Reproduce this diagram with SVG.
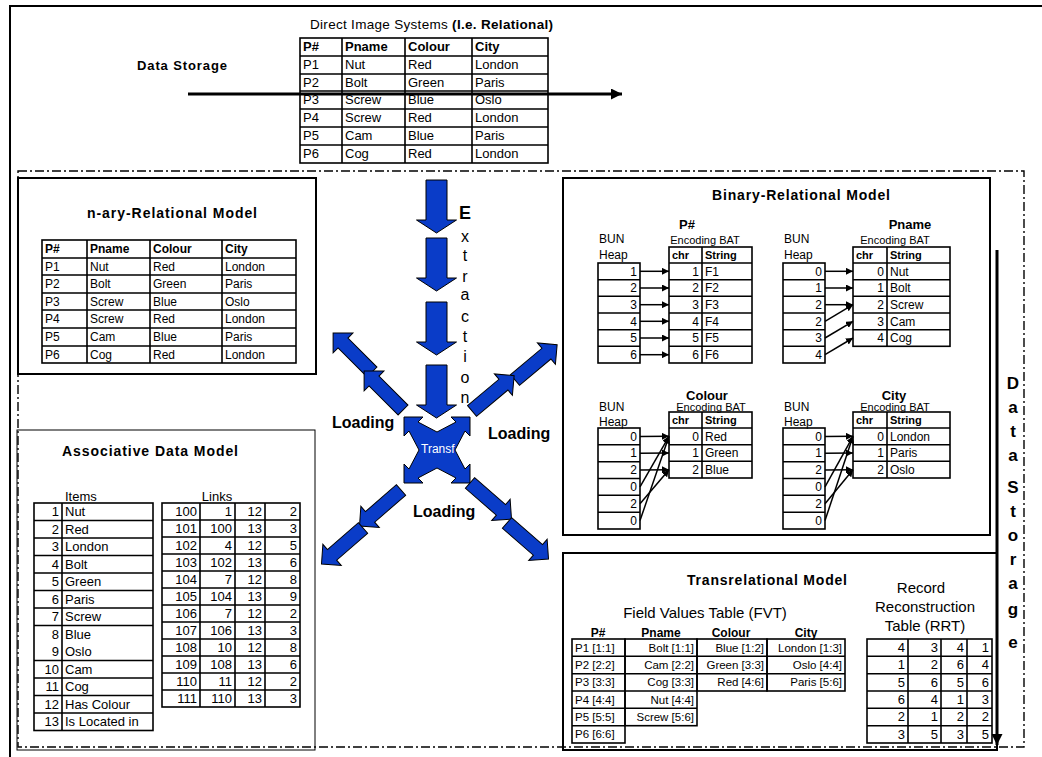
<svg xmlns="http://www.w3.org/2000/svg" width="1042" height="757" viewBox="0 0 1042 757" font-size="12">
<defs>
<style>
text{font-family:"Liberation Sans",Arial,sans-serif;fill:#000}
.b{font-weight:bold}
.e{text-anchor:end}
.m{text-anchor:middle}
.f11{font-size:11px}
.f12{font-size:12px}
.f13{font-size:13px}
.f14{font-size:14px}
.f15{font-size:15px}
.f16{font-size:16px}
.f17{font-size:17px}
.box{fill:none;stroke:#000;stroke-width:2}
.thin{fill:none;stroke:#000;stroke-width:1}
.grid{fill:none;stroke:#000;stroke-width:1.6}
.dd{fill:none;stroke:#000;stroke-width:1.4;stroke-dasharray:9 3 2 3}
.blue{fill:#0a3cc8;stroke:#000;stroke-width:1}
.con{fill:none;stroke:#000;stroke-width:1.5}
.big{fill:none;stroke:#000;stroke-width:3}
</style>
<marker id="ah" viewBox="0 0 10 10" refX="10" refY="5" markerWidth="7" markerHeight="7" orient="auto" markerUnits="userSpaceOnUse"><path d="M0,0 L10,5 L0,10 Z" fill="#000"/></marker>
<marker id="ahb" viewBox="0 0 10 10" refX="10" refY="5" markerWidth="11" markerHeight="11" orient="auto" markerUnits="userSpaceOnUse"><path d="M0,0 L10,5 L0,10 Z" fill="#000"/></marker>
<path id="da" d="M-10.5,0 H10.5 V40 H20 L0,53 L-20,40 H-10.5 Z"/>
<path id="ra" d="M0,-7 H41 V-14 L55,0 L41,14 V7 H0 Z"/>
<clipPath id="xc"><polygon points="404,417 423,417 418,422 437,432 456,422 451,417 470,417 470,436 465,431 455,450 465,469 470,464 470,483 451,483 456,478 437,468 418,478 423,483 404,483 404,464 409,469 419,450 409,431 404,436"/></clipPath>
</defs>
<rect width="1042" height="757" fill="#fff"/>

<g id="frame">
<rect x="10" y="6" width="1040" height="760" class="box"/>
<rect x="18" y="171" width="1006" height="576" class="dd"/>
</g>

<g id="direct-image">
<text x="310" y="29" style="font-size:13.5px" textLength="243" lengthAdjust="spacing">Direct Image Systems <tspan class="b">(I.e. Relational)</tspan></text>
<text x="137" y="70" class="b f13" textLength="90" lengthAdjust="spacing">Data Storage</text>
<rect x="300" y="38" width="248" height="125" class="grid"/>
<path d="M342,38V163M405,38V163M472,38V163M300,56H548M300,74H548M300,91H548M300,109H548M300,127H548M300,145H548" class="grid"/>
<g class="f13">
<text x="303" y="51" class="b">P#</text><text x="345" y="51" class="b">Pname</text><text x="408" y="51" class="b">Colour</text><text x="475" y="51" class="b">City</text>
<text x="303" y="69">P1</text><text x="345" y="69">Nut</text><text x="408" y="69">Red</text><text x="475" y="69">London</text>
<text x="303" y="87">P2</text><text x="345" y="87">Bolt</text><text x="408" y="87">Green</text><text x="475" y="87">Paris</text>
<text x="303" y="104">P3</text><text x="345" y="104">Screw</text><text x="408" y="104">Blue</text><text x="475" y="104">Oslo</text>
<text x="303" y="122">P4</text><text x="345" y="122">Screw</text><text x="408" y="122">Red</text><text x="475" y="122">London</text>
<text x="303" y="140">P5</text><text x="345" y="140">Cam</text><text x="408" y="140">Blue</text><text x="475" y="140">Paris</text>
<text x="303" y="158">P6</text><text x="345" y="158">Cog</text><text x="408" y="158">Red</text><text x="475" y="158">London</text>
</g>
</g>

<g id="n-ary">
<rect x="18" y="178" width="298" height="196" class="box"/>
<text x="87" y="218" class="b f14" textLength="170" lengthAdjust="spacing">n-ary-Relational Model</text>
<rect x="42" y="240" width="254" height="123" class="grid"/>
<path d="M87,240V363M150,240V363M222,240V363M42,258H296M42,275H296M42,293H296M42,310H296M42,328H296M42,346H296" class="grid"/>
<text x="45" y="253" class="b">P#</text><text x="90" y="253" class="b">Pname</text><text x="153" y="253" class="b">Colour</text><text x="225" y="253" class="b">City</text>
<text x="45" y="271">P1</text><text x="90" y="271">Nut</text><text x="153" y="271">Red</text><text x="225" y="271">London</text>
<text x="45" y="288">P2</text><text x="90" y="288">Bolt</text><text x="153" y="288">Green</text><text x="225" y="288">Paris</text>
<text x="45" y="306">P3</text><text x="90" y="306">Screw</text><text x="153" y="306">Blue</text><text x="225" y="306">Oslo</text>
<text x="45" y="323">P4</text><text x="90" y="323">Screw</text><text x="153" y="323">Red</text><text x="225" y="323">London</text>
<text x="45" y="341">P5</text><text x="90" y="341">Cam</text><text x="153" y="341">Blue</text><text x="225" y="341">Paris</text>
<text x="45" y="359">P6</text><text x="90" y="359">Cog</text><text x="153" y="359">Red</text><text x="225" y="359">London</text>
</g>

<g id="binary">
<rect x="563" y="178" width="427" height="357" class="box"/>
<text x="712" y="200" class="b f14" textLength="178" lengthAdjust="spacing">Binary-Relational Model</text>
<text x="687" y="229" class="b m f13">P#</text>
<text x="599" y="243">BUN</text><text x="599" y="259">Heap</text>
<text x="705" y="244" class="m f11">Encoding BAT</text>
<rect x="598" y="263" width="42" height="100" class="grid"/>
<path d="M598,279.7H640M598,296.3H640M598,313H640M598,329.7H640M598,346.3H640" class="grid"/>
<rect x="669" y="247" width="83" height="116" class="grid"/>
<path d="M702,247V363M669,263H752M669,279.7H752M669,296.3H752M669,313H752M669,329.7H752M669,346.3H752" class="grid"/>
<text x="672" y="259" class="b f11">chr</text><text x="705" y="259" class="b f11">String</text>
<g class="f12">
<text x="637" y="275.5" class="e">1</text><text x="637" y="292.2" class="e">2</text><text x="637" y="308.8" class="e">3</text><text x="637" y="325.5" class="e">4</text><text x="637" y="342.2" class="e">5</text><text x="637" y="358.8" class="e">6</text>
<text x="699" y="275.5" class="e">1</text><text x="699" y="292.2" class="e">2</text><text x="699" y="308.8" class="e">3</text><text x="699" y="325.5" class="e">4</text><text x="699" y="342.2" class="e">5</text><text x="699" y="358.8" class="e">6</text>
<text x="705" y="275.5">F1</text><text x="705" y="292.2">F2</text><text x="705" y="308.8">F3</text><text x="705" y="325.5">F4</text><text x="705" y="342.2">F5</text><text x="705" y="358.8">F6</text>
</g>
<text x="910" y="229" class="b m f13">Pname</text>
<text x="784" y="243">BUN</text><text x="784" y="259">Heap</text>
<text x="895" y="244" class="m f11">Encoding BAT</text>
<rect x="783" y="263" width="42" height="100" class="grid"/>
<path d="M783,279.7H825M783,296.3H825M783,313H825M783,329.7H825M783,346.3H825" class="grid"/>
<rect x="853" y="247" width="97" height="99.3" class="grid"/>
<path d="M887,247V346.3M853,263H950M853,279.7H950M853,296.3H950M853,313H950M853,329.7H950" class="grid"/>
<text x="856" y="259" class="b f11">chr</text><text x="890" y="259" class="b f11">String</text>
<g class="f12">
<text x="822" y="275.5" class="e">0</text><text x="822" y="292.2" class="e">1</text><text x="822" y="308.8" class="e">2</text><text x="822" y="325.5" class="e">2</text><text x="822" y="342.2" class="e">3</text><text x="822" y="358.8" class="e">4</text>
<text x="884" y="275.5" class="e">0</text><text x="884" y="292.2" class="e">1</text><text x="884" y="308.8" class="e">2</text><text x="884" y="325.5" class="e">3</text><text x="884" y="342.2" class="e">4</text>
<text x="890" y="275.5">Nut</text><text x="890" y="292.2">Bolt</text><text x="890" y="308.8">Screw</text><text x="890" y="325.5">Cam</text><text x="890" y="342.2">Cog</text>
</g>
<text x="707" y="400" class="b m f13">Colour</text>
<text x="599" y="411">BUN</text><text x="599" y="426">Heap</text>
<text x="711" y="411" class="m f11">Encoding BAT</text>
<rect x="598" y="428" width="42" height="101" class="grid"/>
<path d="M598,444.8H640M598,461.7H640M598,478.5H640M598,495.3H640M598,512.2H640" class="grid"/>
<rect x="669" y="412" width="83" height="66" class="grid"/>
<path d="M702,412V478M669,428H752M669,444.7H752M669,461.3H752" class="grid"/>
<text x="672" y="424" class="b f11">chr</text><text x="705" y="424" class="b f11">String</text>
<g class="f12">
<text x="637" y="440.5" class="e">0</text><text x="637" y="457.3" class="e">1</text><text x="637" y="474.2" class="e">2</text><text x="637" y="491" class="e">0</text><text x="637" y="507.8" class="e">2</text><text x="637" y="524.7" class="e">0</text>
<text x="699" y="440.5" class="e">0</text><text x="699" y="457.2" class="e">1</text><text x="699" y="473.8" class="e">2</text>
<text x="705" y="440.5">Red</text><text x="705" y="457.2">Green</text><text x="705" y="473.8">Blue</text>
</g>
<text x="894" y="400" class="b m f13">City</text>
<text x="784" y="411">BUN</text><text x="784" y="426">Heap</text>
<text x="895" y="411" class="m f11">Encoding BAT</text>
<rect x="783" y="428" width="42" height="101" class="grid"/>
<path d="M783,444.8H825M783,461.7H825M783,478.5H825M783,495.3H825M783,512.2H825" class="grid"/>
<rect x="853" y="412" width="97" height="66" class="grid"/>
<path d="M887,412V478M853,428H950M853,444.7H950M853,461.3H950" class="grid"/>
<text x="856" y="424" class="b f11">chr</text><text x="890" y="424" class="b f11">String</text>
<g class="f12">
<text x="822" y="440.5" class="e">0</text><text x="822" y="457.3" class="e">1</text><text x="822" y="474.2" class="e">2</text><text x="822" y="491" class="e">0</text><text x="822" y="507.8" class="e">2</text><text x="822" y="524.7" class="e">0</text>
<text x="884" y="440.5" class="e">0</text><text x="884" y="457.2" class="e">1</text><text x="884" y="473.8" class="e">2</text>
<text x="890" y="440.5">London</text><text x="890" y="457.2">Paris</text><text x="890" y="473.8">Oslo</text>
</g>
</g>

<g id="associative">
<rect x="17" y="430" width="298" height="320" class="thin"/>
<text x="62" y="456" class="b f14" textLength="176" lengthAdjust="spacing">Associative Data Model</text>
<text x="65" y="501" class="f13">Items</text>
<text x="217" y="501" class="m f13">Links</text>
<rect x="34" y="503" width="119" height="227.5" class="grid"/>
<path d="M62,503V730.5M34,520.5H153M34,538H153M34,555.5H153M34,573H153M34,590.5H153M34,608H153M34,625.5H153M34,660.5H153M34,678H153M34,695.5H153M34,713H153" class="grid"/>
<g class="f13">
<text x="59" y="516" class="e">1</text><text x="65" y="516">Nut</text>
<text x="59" y="533.5" class="e">2</text><text x="65" y="533.5">Red</text>
<text x="59" y="551" class="e">3</text><text x="65" y="551">London</text>
<text x="59" y="568.5" class="e">4</text><text x="65" y="568.5">Bolt</text>
<text x="59" y="586" class="e">5</text><text x="65" y="586">Green</text>
<text x="59" y="603.5" class="e">6</text><text x="65" y="603.5">Paris</text>
<text x="59" y="621" class="e">7</text><text x="65" y="621">Screw</text>
<text x="59" y="638.5" class="e">8</text><text x="65" y="638.5">Blue</text>
<text x="59" y="656" class="e">9</text><text x="65" y="656">Oslo</text>
<text x="59" y="673.5" class="e">10</text><text x="65" y="673.5">Cam</text>
<text x="59" y="691" class="e">11</text><text x="65" y="691">Cog</text>
<text x="59" y="708.5" class="e">12</text><text x="65" y="708.5">Has Colour</text>
<text x="59" y="726" class="e">13</text><text x="65" y="726">Is Located in</text>
</g>
<rect x="162" y="503" width="138" height="204" class="grid"/>
<path d="M200,503V707M235,503V707M265,503V707M162,520H300M162,537H300M162,554H300M162,571H300M162,588H300M162,605H300M162,622H300M162,639H300M162,656H300M162,673H300M162,690H300" class="grid"/>
<g class="f13 e">
<text x="197" y="516">100</text><text x="232" y="516">1</text><text x="262" y="516">12</text><text x="297" y="516">2</text>
<text x="197" y="533">101</text><text x="232" y="533">100</text><text x="262" y="533">13</text><text x="297" y="533">3</text>
<text x="197" y="550">102</text><text x="232" y="550">4</text><text x="262" y="550">12</text><text x="297" y="550">5</text>
<text x="197" y="567">103</text><text x="232" y="567">102</text><text x="262" y="567">13</text><text x="297" y="567">6</text>
<text x="197" y="584">104</text><text x="232" y="584">7</text><text x="262" y="584">12</text><text x="297" y="584">8</text>
<text x="197" y="601">105</text><text x="232" y="601">104</text><text x="262" y="601">13</text><text x="297" y="601">9</text>
<text x="197" y="618">106</text><text x="232" y="618">7</text><text x="262" y="618">12</text><text x="297" y="618">2</text>
<text x="197" y="635">107</text><text x="232" y="635">106</text><text x="262" y="635">13</text><text x="297" y="635">3</text>
<text x="197" y="652">108</text><text x="232" y="652">10</text><text x="262" y="652">12</text><text x="297" y="652">8</text>
<text x="197" y="669">109</text><text x="232" y="669">108</text><text x="262" y="669">13</text><text x="297" y="669">6</text>
<text x="197" y="686">110</text><text x="232" y="686">11</text><text x="262" y="686">12</text><text x="297" y="686">2</text>
<text x="197" y="703">111</text><text x="232" y="703">110</text><text x="262" y="703">13</text><text x="297" y="703">3</text>
</g>
</g>

<g id="transrelational">
<rect x="563" y="553" width="434" height="197" class="box"/>
<text x="687" y="585" class="b f14" textLength="160" lengthAdjust="spacing">Transrelational Model</text>
<text x="705" y="618" class="m f15">Field Values Table (FVT)</text>
<text x="921" y="593" class="m f15">Record</text>
<text x="925" y="612" class="m f15">Reconstruction</text>
<text x="925" y="631" class="m f15">Table (RRT)</text>
<text x="598" y="637" class="b m">P#</text><text x="661" y="637" class="b m">Pname</text><text x="731" y="637" class="b m">Colour</text><text x="806" y="637" class="b m">City</text>
<rect x="572" y="639" width="53" height="104" class="grid"/>
<path d="M572,656.3H625M572,673.7H625M572,691H625M572,708.3H625M572,725.7H625" class="grid"/>
<rect x="625" y="639" width="72" height="86.7" class="grid"/>
<path d="M625,656.3H697M625,673.7H697M625,691H697M625,708.3H697" class="grid"/>
<rect x="697" y="639" width="70" height="52" class="grid"/>
<path d="M697,656.3H767M697,673.7H767" class="grid"/>
<rect x="767" y="639" width="78" height="52" class="grid"/>
<path d="M767,656.3H845M767,673.7H845" class="grid"/>
<g style="font-size:11.5px">
<text x="575" y="651.5">P1 [1:1]</text><text x="575" y="668.8">P2 [2:2]</text><text x="575" y="686.2">P3 [3:3]</text><text x="575" y="703.5">P4 [4:4]</text><text x="575" y="720.8">P5 [5:5]</text><text x="575" y="738.2">P6 [6:6]</text>
<text x="694" y="651.5" class="e">Bolt [1:1]</text><text x="694" y="668.8" class="e">Cam [2:2]</text><text x="694" y="686.2" class="e">Cog [3:3]</text><text x="694" y="703.5" class="e">Nut [4:4]</text><text x="694" y="720.8" class="e">Screw [5:6]</text>
<text x="764" y="651.5" class="e">Blue [1:2]</text><text x="764" y="668.8" class="e">Green [3:3]</text><text x="764" y="686.2" class="e">Red [4:6]</text>
<text x="842" y="651.5" class="e">London [1:3]</text><text x="842" y="668.8" class="e">Oslo [4:4]</text><text x="842" y="686.2" class="e">Paris [5:6]</text>
</g>
<rect x="867" y="639" width="125" height="104" class="grid"/>
<path d="M908,639V743M941,639V743M967,639V743M867,656.3H992M867,673.7H992M867,691H992M867,708.3H992M867,725.7H992" class="grid"/>
<g class="f13 e">
<text x="905" y="652">4</text><text x="938" y="652">3</text><text x="964" y="652">4</text><text x="989" y="652">1</text>
<text x="905" y="669.3">1</text><text x="938" y="669.3">2</text><text x="964" y="669.3">6</text><text x="989" y="669.3">4</text>
<text x="905" y="686.7">5</text><text x="938" y="686.7">6</text><text x="964" y="686.7">5</text><text x="989" y="686.7">6</text>
<text x="905" y="704">6</text><text x="938" y="704">4</text><text x="964" y="704">1</text><text x="989" y="704">3</text>
<text x="905" y="721.3">2</text><text x="938" y="721.3">1</text><text x="964" y="721.3">2</text><text x="989" y="721.3">2</text>
<text x="905" y="738.7">3</text><text x="938" y="738.7">5</text><text x="964" y="738.7">3</text><text x="989" y="738.7">5</text>
</g>
</g>

<g id="transformation">
<polygon points="404,417 423,417 418,422 437,432 456,422 451,417 470,417 470,436 465,431 455,450 465,469 470,464 470,483 451,483 456,478 437,468 418,478 423,483 404,483 404,464 409,469 419,450 409,431 404,436" class="blue"/>
<text x="421" y="453" clip-path="url(#xc)" style="fill:#fff;font-size:12px">Transf</text>
</g>

<g id="labels">
<text x="465" y="219" class="b m" style="font-size:18px">E</text>
<g class="m f16">
<text x="465" y="242">x</text><text x="465" y="261">t</text><text x="465" y="282">r</text><text x="465" y="300">a</text><text x="465" y="322">c</text><text x="465" y="342">t</text><text x="465" y="362">i</text><text x="465" y="383">o</text><text x="465" y="403">n</text>
</g>
<text x="332" y="428" class="b f16">Loading</text>
<text x="488" y="439" class="b f16">Loading</text>
<text x="413" y="517" class="b f16">Loading</text>
<g class="b m f17">
<text x="1013" y="389">D</text><text x="1013" y="413">a</text><text x="1013" y="437">t</text><text x="1013" y="461">a</text>
<text x="1013" y="493">S</text><text x="1013" y="517">t</text><text x="1013" y="541">o</text><text x="1013" y="565">r</text><text x="1013" y="589">a</text><text x="1013" y="615">g</text><text x="1013" y="648">e</text>
</g>
</g>

<g id="connectors">
<line x1="188" y1="94" x2="622" y2="94" class="big" marker-end="url(#ahb)"/>
<line x1="997" y1="250" x2="997" y2="745" class="big" marker-end="url(#ahb)"/>
<g class="blue">
<use href="#da" x="436.5" y="180"/>
<use href="#da" x="436.5" y="238"/>
<use href="#da" x="436.5" y="302"/>
<use href="#da" x="436.5" y="365"/>
<use href="#ra" transform="translate(372,372) rotate(-135)"/>
<use href="#ra" transform="translate(403,410) rotate(-135)"/>
<use href="#ra" transform="translate(515,380) rotate(-40)"/>
<use href="#ra" transform="translate(472,411) rotate(-40)"/>
<use href="#ra" transform="translate(401,490) rotate(139)"/>
<use href="#ra" transform="translate(363,528) rotate(139)"/>
<use href="#ra" transform="translate(470,483) rotate(41)"/>
<use href="#ra" transform="translate(507,523) rotate(41)"/>
</g>
<g class="con" marker-end="url(#ah)">
<line x1="640" y1="271.3" x2="669" y2="271.3"/><line x1="640" y1="288" x2="669" y2="288"/><line x1="640" y1="304.7" x2="669" y2="304.7"/><line x1="640" y1="321.3" x2="669" y2="321.3"/><line x1="640" y1="338" x2="669" y2="338"/><line x1="640" y1="354.7" x2="669" y2="354.7"/>
<line x1="825" y1="271.3" x2="853" y2="271.3"/><line x1="825" y1="288" x2="853" y2="288"/><line x1="825" y1="304.7" x2="853" y2="304.7"/><line x1="825" y1="321.3" x2="853" y2="304.7"/><line x1="825" y1="338" x2="853" y2="321.3"/><line x1="825" y1="354.7" x2="853" y2="338"/>
<line x1="640" y1="436.4" x2="669" y2="436.3"/><line x1="640" y1="453.3" x2="669" y2="453"/><line x1="640" y1="470.1" x2="669" y2="469.7"/><line x1="640" y1="486.9" x2="669" y2="436.3"/><line x1="640" y1="503.8" x2="669" y2="469.7"/><line x1="640" y1="520.6" x2="669" y2="436.3"/>
<line x1="825" y1="436.4" x2="853" y2="436.3"/><line x1="825" y1="453.3" x2="853" y2="453"/><line x1="825" y1="470.1" x2="853" y2="469.7"/><line x1="825" y1="486.9" x2="853" y2="436.3"/><line x1="825" y1="503.8" x2="853" y2="469.7"/><line x1="825" y1="520.6" x2="853" y2="436.3"/>
</g>
</g>
</svg>
